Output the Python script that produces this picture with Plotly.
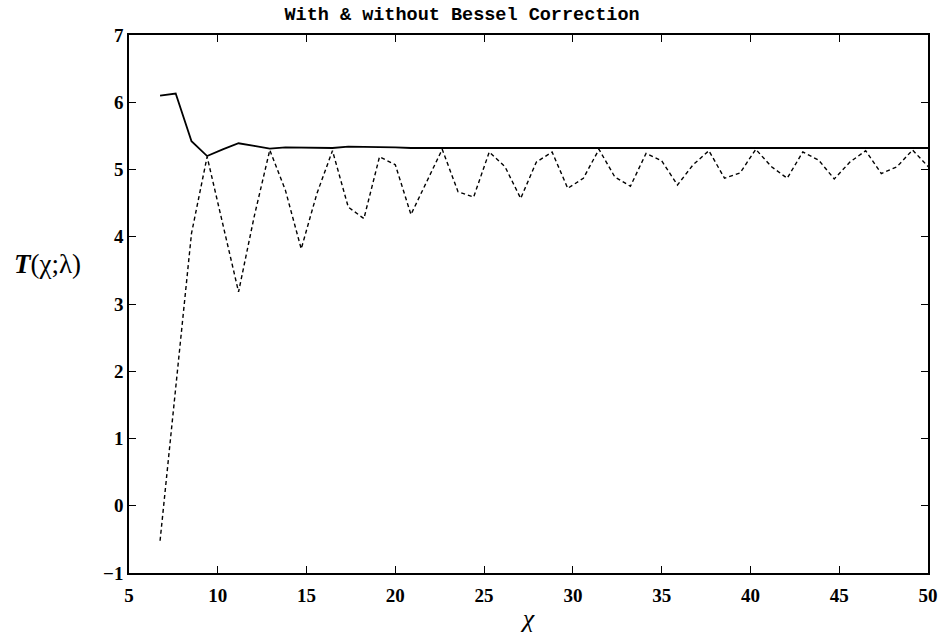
import plotly.graph_objects as go

# chi sample positions
chi = [6.75, 7.63, 8.52, 9.40, 10.28, 11.17, 12.05, 12.93, 13.81, 14.70,
       15.58, 16.46, 17.35, 18.23, 19.11, 20.00, 20.88, 21.76, 22.64, 23.53,
       24.41, 25.29, 26.18, 27.06, 27.94, 28.83, 29.71, 30.59, 31.47, 32.36,
       33.24, 34.12, 35.00, 35.89, 36.77, 37.66, 38.54, 39.42, 40.30, 41.19,
       42.07, 42.95, 43.84, 44.72, 45.60, 46.49, 47.37, 48.25, 49.13, 50.02]

# with Bessel correction (solid)
with_bessel = [6.10, 6.13, 5.42, 5.20, 5.30, 5.39, 5.35, 5.31, 5.33, 5.33,
               5.33, 5.32, 5.34, 5.34, 5.33, 5.33, 5.32, 5.32, 5.32, 5.32,
               5.32, 5.32, 5.32, 5.32, 5.32, 5.32, 5.32, 5.32, 5.32, 5.32,
               5.32, 5.32, 5.32, 5.32, 5.32, 5.32, 5.32, 5.32, 5.32, 5.32,
               5.32, 5.32, 5.32, 5.32, 5.32, 5.32, 5.32, 5.32, 5.32, 5.32]

# without Bessel correction (dashed)
without_bessel = [-0.52, 1.75, 4.05, 5.19, 4.20, 3.18, 4.30, 5.29, 4.69, 3.82,
                  4.64, 5.28, 4.44, 4.27, 5.19, 5.07, 4.33, 4.82, 5.30, 4.67,
                  4.59, 5.26, 5.04, 4.57, 5.11, 5.26, 4.72, 4.87, 5.30, 4.89,
                  4.75, 5.24, 5.13, 4.77, 5.07, 5.28, 4.87, 4.95, 5.30, 5.04,
                  4.87, 5.26, 5.14, 4.86, 5.11, 5.28, 4.94, 5.04, 5.29, 5.04]

x_ticks = [5, 10, 15, 20, 25, 30, 35, 40, 45, 50]
y_ticks = [-1, 0, 1, 2, 3, 4, 5, 6, 7]
y_tick_text = ["\u22121", "0", "1", "2", "3", "4", "5", "6", "7"]

fig = go.Figure()
fig.add_trace(go.Scatter(x=chi, y=with_bessel, mode="lines",
                         line=dict(color="black", width=1.8),
                         showlegend=False, cliponaxis=False))
fig.add_trace(go.Scatter(x=chi, y=without_bessel, mode="lines",
                         line=dict(color="black", width=1.4, dash="4px,3px"),
                         showlegend=False, cliponaxis=False))

tickfont = dict(family="Liberation Serif", size=19, color="black", weight="bold")
axis_common = dict(showline=True, linecolor="black", linewidth=1.6, mirror="allticks",
                   ticks="inside", ticklen=7, tickwidth=1.3, tickcolor="black",
                   showgrid=False, zeroline=False, tickfont=tickfont, automargin=False)

fig.update_xaxes(range=[5, 50], tickvals=x_ticks, ticktext=[str(v) for v in x_ticks],
                 ticklabelstandoff=4,
                 title=dict(text="<i>\u03c7</i>", font=dict(family="Liberation Serif", size=26, color="black"),
                            standoff=4),
                 **axis_common)
fig.update_yaxes(range=[-1, 7], tickvals=y_ticks, ticktext=y_tick_text, **axis_common)

fig.update_layout(
    width=943, height=637,
    margin=dict(l=129, r=15, t=35, b=64),
    paper_bgcolor="white", plot_bgcolor="white",
    title=dict(text="<b>With &amp; without Bessel Correction</b>",
               font=dict(family="Liberation Mono", size=18.5, color="black"),
               x=0.49, xanchor="center", y=0.978, yanchor="middle"),
    annotations=[dict(text="<i><b>T</b></i>(\u03c7;\u03bb)", xref="paper", yref="paper",
                      x=-0.147, y=0.575, xanchor="left", yanchor="middle", showarrow=False,
                      font=dict(family="Liberation Serif", size=27, color="black"))],
)

fig.write_html("out.html")
